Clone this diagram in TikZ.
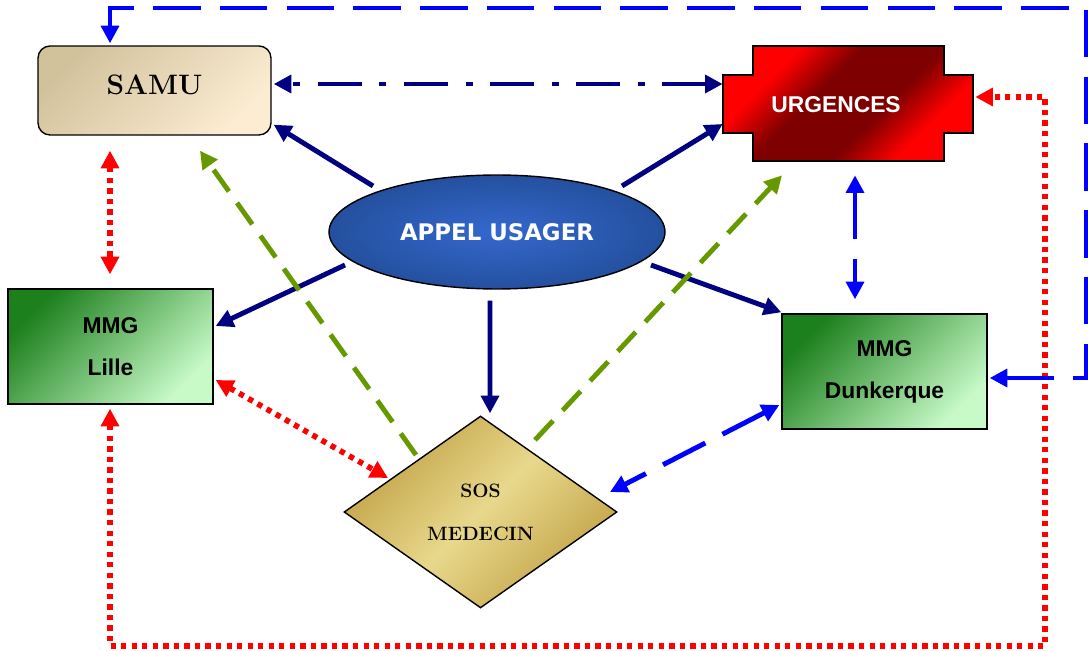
\documentclass[tikz,border=0pt]{standalone}
\usepackage{fontspec}
\newfontfamily\arialb{Liberation Sans}
\newfontfamily\verdb{DejaVu Sans}
\usepackage{xcolor}
\usepackage{tikz}
\usetikzlibrary{arrows.meta,positioning,calc,shapes.geometric}
\definecolor{navyline}{HTML}{000080}
\definecolor{blueline}{HTML}{0000FF}
\definecolor{redline}{HTML}{FF0000}
\definecolor{greenline}{HTML}{669900}
\definecolor{samudark}{HTML}{D2C29C}
\definecolor{samulight}{HTML}{FCECD2}
\definecolor{urgred}{HTML}{FF0000}
\definecolor{urgdark}{HTML}{7E0000}
\definecolor{appelin}{HTML}{3468CE}
\definecolor{appelout}{HTML}{24509E}
\definecolor{mmgdark}{HTML}{1C801C}
\definecolor{mmglight}{HTML}{C8FAC8}
\definecolor{sosdark}{HTML}{C2A246}
\definecolor{soslight}{HTML}{E8D88C}
\pgfdeclareverticalshading{urgshade}{100bp}{color(0bp)=(urgred); color(30bp)=(urgred); color(42bp)=(urgdark); color(58bp)=(urgdark); color(70bp)=(urgred); color(100bp)=(urgred)}

\begin{document}
\begin{tikzpicture}[x=0.02cm,y=-0.02cm,>={Triangle[length=10pt,width=10pt]},
  samubox/.style={draw=black,line width=0.8pt,rounded corners=0.24cm,minimum width=4.66cm,minimum height=1.78cm,inner sep=0pt,
    top color=samudark,bottom color=samulight,shading angle=45,text depth=0.24cm,font=\bfseries\fontsize{16}{19}\selectfont},
  urgbox/.style={minimum width=5cm,minimum height=2.3cm,inner sep=0pt},
  urgtext/.style={text=white,font=\arialb\bfseries\fontsize{13}{16}\selectfont},
  appelbox/.style={ellipse,draw=black,line width=0.8pt,minimum width=6.72cm,minimum height=2.28cm,inner sep=0pt,
    inner color=appelin,outer color=appelout,text=white,font=\verdb\bfseries\fontsize{13}{16}\selectfont},
  mmgbox/.style={draw=black,line width=0.8pt,minimum width=4.1cm,minimum height=2.3cm,inner sep=0pt,align=center,
    top color=mmgdark,bottom color=mmglight,shading angle=45,font=\arialb\bfseries\fontsize{13}{24}\selectfont},
  sosbox/.style={diamond,aspect=1.42,draw=black,line width=0.8pt,minimum width=5.46cm,minimum height=3.84cm,inner sep=0pt,align=center,
    top color=sosdark,bottom color=sosdark,middle color=soslight,shading angle=45,font=\bfseries\fontsize{11}{24.4}\selectfont},
  navyarr/.style={draw=navyline,line width=2.8pt,->,fill=navyline},
  dotdasharr/.style={draw=navyline,line width=2.8pt,<->,dash pattern=on 25pt off 10pt on 4pt off 10pt},
  greenarr/.style={draw=greenline,line width=2.8pt,->,dash pattern=on 15pt off 8pt},
  redarr/.style={draw=redline,line width=3.2pt,<->,dash pattern=on 3pt off 3pt},
  bluearr/.style={draw=blueline,line width=2.8pt,<->,dash pattern=on 27pt off 11pt}]
\useasboundingbox (0,0) rectangle (1088,651);
\shade[draw=black,line width=0.8pt,shading=urgshade,shading angle=45]
  (723,75) -| (753,46) -| (944,75) -| (973,133) -| (944,161) -| (753,133) -| cycle;
\node[samubox] (samu) at (154.5,90.5) {SAMU};
\node[urgbox,label={[urgtext,xshift=-0.24cm,yshift=-0.03cm]center:URGENCES}] (urg) at (848,103.5) {};
\node[appelbox] (appel) at (497,232) {APPEL USAGER};
\node[mmgbox] (lille) at (110.5,346.5) {MMG\\Lille};
\node[mmgbox] (dunk) at (884.5,371.5) {MMG\\Dunkerque};
\node[sosbox] (sos) at (480.5,512) {SOS\\MEDECIN};
\coordinate (redcorner) at (1045,646);
\coordinate (bluecorner) at (1086,8);
\draw[navyarr] ($(appel.center)+(-124,-46)$) -- ($(samu.south east)+(2,-11)$);
\draw[navyarr] ($(appel.center)+(125,-46)$) -- ($(urg.west)+(0,20.5)$);
\draw[navyarr] ($(appel.center)+(-152,33)$) -- ($(lille.east)+(2,-20.5)$);
\draw[navyarr] ($(appel.center)+(154,33)$) -- ($(dunk.north west)+(0,-1)$);
\draw[navyarr] ($(appel.south)+(-7,11)$) -- ($(sos.north)+(9.5,-2)$);
\draw[dotdasharr] ($(urg.west)+(0,-19.5)$) -- ($(samu.east)+(2,-6.5)$);
\draw[greenarr] ($(sos.center)+(-64.5,-57)$) -- ($(samu.south)+(45.5,15)$);
\draw[greenarr] ($(sos.center)+(54.5,-72)$) -- ($(urg.south)+(-66,14)$);
\draw[redarr] ($(samu.south)+(-44.5,15)$) -- ($(lille.north)+(-0.5,-14)$);
\draw[redarr] ($(lille.east)+(2,33.5)$) -- ($(sos.center)+(-92.5,-34)$);
\draw[redarr] ($(lille.south)+(-0.5,4)$) |- (redcorner) |- ($(urg.east)+(2,-6.5)$);
\draw[bluearr] ($(urg.south)+(7,14)$) -- ($(dunk.north)+(-29.5,-14)$);
\draw[bluearr] ($(dunk.west)+(-2,33.5)$) -- ($(sos.center)+(129.5,-20)$);
\draw[bluearr] ($(dunk.east)+(2,6.5)$) -| (bluecorner) -| ($(samu.north)+(-44.5,-2)$);
\end{tikzpicture}
\end{document}
